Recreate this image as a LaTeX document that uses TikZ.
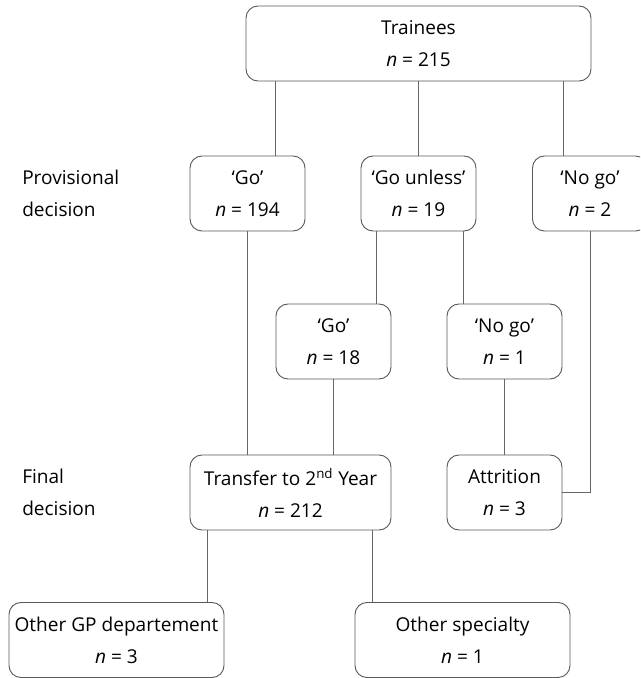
\documentclass[tikz,border=0pt]{standalone}
\usepackage{fontspec}
\setmainfont{Open Sans}
\usetikzlibrary{calc}
\tikzset{
    box/.style={draw=black!65, line width=0.7pt, rounded corners=9pt, align=center,
        minimum height=56.25pt, inner sep=0pt, font=\fontsize{14.3}{24}\selectfont},
    lbl/.style={anchor=west, align=left, inner sep=0pt, font=\fontsize{14.3}{24}\selectfont},
    link/.style={draw=black!60, line width=0.7pt}
}
\begin{document}
\begin{tikzpicture}[x=0.75pt, y=-0.75pt]
    \useasboundingbox (0,0) rectangle (640,678);
    \clip (0,0) rectangle (640,678);

    \node[box, minimum width=258.75pt] (trainees) at (418.5,43.5) {Trainees\\\textit{n} = 215};

    \node[lbl] (provisional) at (22,193.5) {Provisional\\decision};
    \node[box, minimum width=86.25pt] (go) at (247.5,193.5) {`Go'\\\textit{n} = 194};
    \node[box, minimum width=86.25pt] (gounless) at (418.5,193.5) {`Go unless'\\\textit{n} = 19};
    \node[box, minimum width=86.25pt] (nogo) at (590,193.5) {`No go'\\\textit{n} = 2};

    \node[box, minimum width=86.25pt] (go2) at (333.5,341.5) {`Go'\\\textit{n} = 18};
    \node[box, minimum width=86.25pt] (nogo2) at (504.5,341.5) {`No go'\\\textit{n} = 1};

    \node[lbl] (final) at (22,492.5) {Final\\decision};
    \node[box, minimum width=150.75pt] (transfer) at (290.5,492.5) {Transfer to 2\textsuperscript{nd} Year\\\textit{n} = 212};
    \node[box, minimum width=86.25pt] (attrition) at (504.5,492.5) {Attrition\\\textit{n} = 3};

    \node[box, minimum width=161.25pt] (othergp) at (116.5,640) {Other GP departement\\\textit{n} = 3};
    \node[box, minimum width=161.25pt] (otherspec) at (462.5,640) {Other specialty\\\textit{n} = 1};

    \path[link] ($(trainees.south)+(-143.5,0)$) -- ($(go.north)+(27.5,0)$);
    \path[link] (trainees.south) -- (gounless.north);
    \path[link] ($(trainees.south)+(144.5,0)$) -- ($(nogo.north)+(-27,0)$);
    \path[link] (go.south) -- (go.south |- transfer.north);
    \path[link] ($(gounless.south)+(-42.5,0)$) -- ($(go2.north)+(42.5,0)$);
    \path[link] ($(gounless.south)+(44.5,0)$) -- ($(nogo2.north)+(-41.5,0)$);
    \path[link] (go2.south) -- (go2.south |- transfer.north);
    \path[link] (nogo2.south) -- (attrition.north);
    \path[link] (nogo.south) |- (attrition.east);
    \path[link] ($(transfer.south)+(-83.5,0)$) -- ($(othergp.north)+(90.5,0)$);
    \path[link] ($(transfer.south)+(81.5,0)$) -- ($(otherspec.north)+(-90.5,0)$);
\end{tikzpicture}
\end{document}
